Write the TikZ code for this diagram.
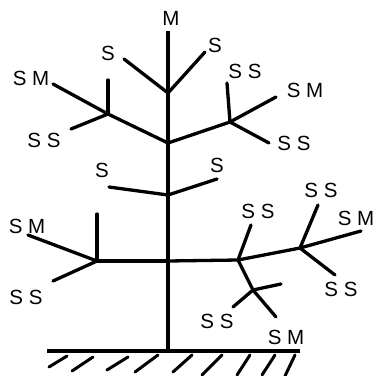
\documentclass[tikz,border=0pt]{standalone}
\usepackage{fontspec}
\setmainfont{Liberation Sans}
\begin{document}
\begin{tikzpicture}[x=1pt,y=-1pt,
  br/.style={line width=3.3pt,line cap=round},
  tr/.style={line width=3.8pt},
  lab/.style={inner sep=0pt,font=\fontsize{20.5}{20}\selectfont},
  hat/.style={line width=3pt,line cap=round}]
\useasboundingbox (0,0) rectangle (376,376);
% junctions
\coordinate (top) at (168,31);
\coordinate (A) at (168,93);
\coordinate (B) at (168,143);
\coordinate (M0) at (168,195);
\coordinate (F) at (168,261);
\coordinate (base) at (168,351);
\coordinate (C) at (108,114);
\coordinate (D) at (230,122);
\coordinate (E) at (97,261);
\coordinate (G) at (238,260);
\coordinate (H) at (300,248);
\coordinate (I) at (253,290);
% trunk
\draw[tr] (top) -- (base);
% ground
\coordinate (g1) at (47,351);
\coordinate (g2) at (300,351);
\draw[tr] (g1) -- (g2);
\foreach \a/\b/\c/\d in {49/367/67/356, 72/371/93/357, 107/370/128/357, 135/372/158/355,
  173/372/192/355, 202/375/222/355, 237/375/250/355, 262/375/275/355, 285/376/295/355}
  \draw[hat] (\a,\b) -- (\c,\d);
% end points
\coordinate (a1) at (124,59);
\coordinate (a2) at (205,52);
\coordinate (c1) at (53,84);
\coordinate (c2) at (108,80);
\coordinate (c3) at (71,129);
\coordinate (d1) at (227,83);
\coordinate (d2) at (276,97);
\coordinate (d3) at (269,143);
\coordinate (m1) at (109,187);
\coordinate (m2) at (217,179);
\coordinate (e1) at (28,235);
\coordinate (e2) at (97,214);
\coordinate (e3) at (53,281);
\coordinate (gg) at (251,225);
\coordinate (h1) at (318,205);
\coordinate (h2) at (361,231);
\coordinate (h3) at (335,275);
\coordinate (i1) at (281,284);
\coordinate (i2) at (233,307);
\coordinate (i3) at (276,317);
% branches
\draw[br] (A) -- (a1);
\draw[br] (A) -- (a2);
\draw[br] (B) -- (C);
\draw[br] (B) -- (D);
\draw[br] (C) -- (c1);
\draw[br] (C) -- (c2);
\draw[br] (C) -- (c3);
\draw[br] (D) -- (d1);
\draw[br] (D) -- (d2);
\draw[br] (D) -- (d3);
\draw[br] (M0) -- (m1);
\draw[br] (M0) -- (m2);
\draw[br] (F) -- (E);
\draw[br] (E) -- (e1);
\draw[br] (E) -- (e2);
\draw[br] (E) -- (e3);
\draw[br] (F) -- (G);
\draw[br] (G) -- (gg);
\draw[br] (G) -- (H);
\draw[br] (H) -- (h1);
\draw[br] (H) -- (h2);
\draw[br] (H) -- (h3);
\draw[br] (G) -- (I);
\draw[br] (I) -- (i1);
\draw[br] (I) -- (i2);
\draw[br] (I) -- (i3);
% labels
\node[lab] (lM) at (171,18) {M};
\node[lab] (la1) at (108,53) {S};
\node[lab] (la2) at (215,45) {S};
\node[lab] (lc1) at (31,78) {S M};
\node[lab] (lc3) at (44,140) {S S};
\node[lab] (ld1) at (245,71) {S S};
\node[lab] (ld2) at (305,90) {S M};
\node[lab] (ld3) at (294,143) {S S};
\node[lab] (lm1) at (102,170) {S};
\node[lab] (lm2) at (217,165) {S};
\node[lab] (le1) at (27,226) {S M};
\node[lab] (le3) at (26,297) {S S};
\node[lab] (lg) at (258,211) {S S};
\node[lab] (lh1) at (321,190) {S S};
\node[lab] (lh2) at (356,218) {S M};
\node[lab] (lh3) at (341,289) {S S};
\node[lab] (li2) at (217,321) {S S};
\node[lab] (li3) at (286,337) {S M};
\end{tikzpicture}
\end{document}
